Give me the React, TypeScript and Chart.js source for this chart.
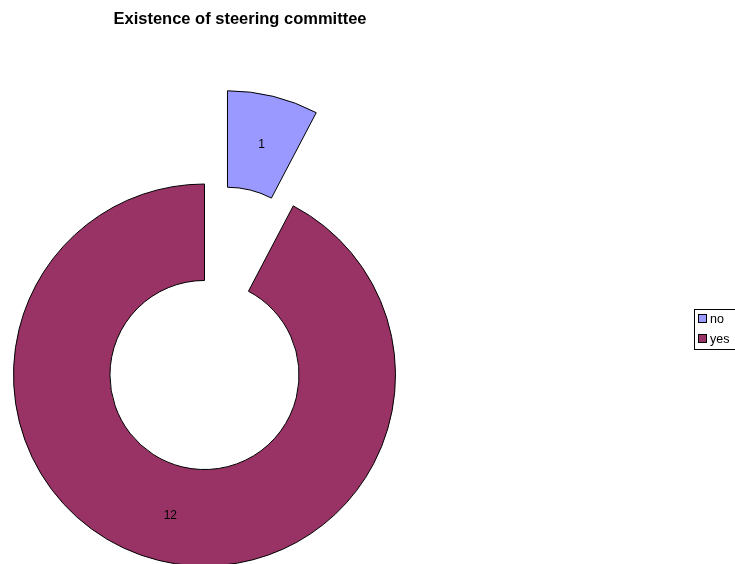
import React, { useEffect, useRef } from "react";
import { Chart, registerables } from "chart.js";

Chart.register(...registerables);

const categories = ["no", "yes"];
const values = [1, 12];
const colors = ["#9999FF", "#993366"];
const titleText = "Existence of steering committee";

const EXPLODE = 96;
const FONT = "Arial, 'Liberation Sans', sans-serif";

const explodePlugin = {
  id: "explode",
  afterDatasetsUpdate(chart: any) {
    const meta = chart.getDatasetMeta(0);
    const arc = meta.data[0];
    if (!arc) return;
    const mid = (arc.startAngle + arc.endAngle) / 2;
    arc.x += Math.cos(mid) * EXPLODE;
    arc.y += Math.sin(mid) * EXPLODE;
  },
};

const decorPlugin = {
  id: "decor",
  afterDatasetsDraw(chart: any) {
    const ctx = chart.ctx;
    const meta = chart.getDatasetMeta(0);
    ctx.save();
    // value labels
    ctx.fillStyle = "#000";
    ctx.font = `12px ${FONT}`;
    ctx.textAlign = "center";
    ctx.textBaseline = "middle";
    meta.data.forEach((arc: any, i: number) => {
      const p = arc.getCenterPoint();
      ctx.fillText(String(values[i]), p.x, p.y + 2);
    });
    // title
    ctx.font = `bold 16.5px ${FONT}`;
    ctx.textBaseline = "alphabetic";
    ctx.fillText(titleText, 240, 24);
    // legend
    ctx.lineWidth = 1;
    ctx.strokeStyle = "#000";
    ctx.strokeRect(694.5, 309.5, 50, 40);
    ctx.font = `12.5px ${FONT}`;
    ctx.textAlign = "left";
    ctx.textBaseline = "middle";
    categories.forEach((c, i) => {
      const y = 319 + i * 20;
      ctx.fillStyle = colors[i];
      ctx.fillRect(698.5, y - 4.5, 8, 8);
      ctx.strokeRect(698.5, y - 4.5, 8, 8);
      ctx.fillStyle = "#000";
      ctx.fillText(c, 710, y + 1);
    });
    ctx.restore();
  },
};

export default function App() {
  const ref = useRef<HTMLCanvasElement>(null);
  useEffect(() => {
    document.body.style.margin = "0";
    const chart = new Chart(ref.current as HTMLCanvasElement, {
      type: "doughnut",
      data: {
        labels: categories,
        datasets: [
          {
            data: values,
            backgroundColor: colors,
            borderColor: "#000",
            borderWidth: 1,
            clip: false as any,
          },
        ],
      },
      options: {
        responsive: false,
        animation: false,
        events: [],
        radius: 191,
        cutout: "49.5%",
        layout: { padding: { top: 186, bottom: 0, left: 0, right: 326 } },
        plugins: {
          legend: { display: false },
          title: { display: false },
          tooltip: { enabled: false },
        },
      } as any,
      plugins: [explodePlugin, decorPlugin],
    });
    return () => chart.destroy();
  }, []);
  return (
    <div style={{ width: 735, height: 564, background: "#fff" }}>
      <canvas ref={ref} width={735} height={564} style={{ display: "block" }} />
    </div>
  );
}
